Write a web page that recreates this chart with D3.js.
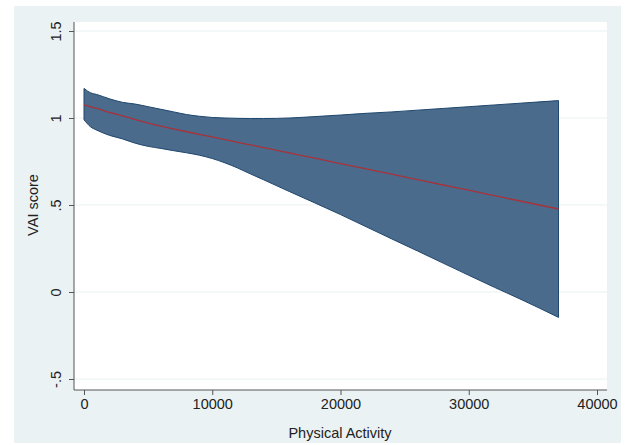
<!DOCTYPE html>
<html>
<head>
<meta charset="utf-8">
<script src="https://cdn.jsdelivr.net/npm/d3@7"></script>
<style>
  body { margin: 0; background: #fff; }
  text { font-family: "Liberation Sans", Arial, sans-serif; }
</style>
</head>
<body>
<div id="container"></div>
<script>
// physical activity values where the fit was read
const activity = [0, 500, 1000, 2000, 3000, 4000, 5000, 6000, 7000, 8000, 9000, 10000, 11000, 12000, 13000, 14000,
  16000, 18000, 20000, 22000, 24000, 26000, 28000, 30000, 32000, 34000, 37000]
// fitted VAI score and the confidence band
const fitted = [1.075, 1.065, 1.055, 1.032, 1.012, 0.991, 0.971, 0.953, 0.937, 0.921, 0.906, 0.891, 0.876, 0.86, 0.845, 0.83,
  0.799, 0.769, 0.738, 0.707, 0.677, 0.646, 0.615, 0.585, 0.554, 0.523, 0.477]
const upper = [1.17, 1.145, 1.135, 1.11, 1.09, 1.08, 1.065, 1.05, 1.035, 1.02, 1.01, 1.003, 1.0, 0.998, 0.997, 0.997,
  1.0, 1.008, 1.017, 1.027, 1.035, 1.045, 1.055, 1.065, 1.075, 1.085, 1.10]
const lower = [0.99, 0.95, 0.93, 0.90, 0.88, 0.855, 0.837, 0.825, 0.812, 0.80, 0.786, 0.767, 0.742, 0.712, 0.678, 0.645,
  0.578, 0.512, 0.445, 0.375, 0.305, 0.236, 0.166, 0.096, 0.027, -0.04, -0.146]

const xTicks = [0, 10000, 20000, 30000, 40000]
const yTicks = [-0.5, 0, 0.5, 1, 1.5]
const yTickLabels = ["-.5", "0", ".5", "1", "1.5"]

const width = 629, height = 445
const plot = { left: 74, right: 607, top: 22, bottom: 390 }

const svg = d3.select("#container").append("svg")
  .attr("width", width)
  .attr("height", height)

// outer graph region
svg.append("rect")
  .attr("x", 14).attr("y", 6)
  .attr("width", 607).attr("height", 437)
  .attr("fill", "#eaf2f3")

// inner plot region
svg.append("rect")
  .attr("x", plot.left).attr("y", plot.top)
  .attr("width", plot.right - plot.left).attr("height", plot.bottom - plot.top)
  .attr("fill", "#ffffff")

const x = d3.scaleLinear().domain([0, 40000]).range([84, 597])
const y = d3.scaleLinear().domain([-0.5, 1.5]).range([379, 31])

// grid lines
svg.append("g")
  .selectAll("line")
  .data(yTicks)
  .enter()
  .append("line")
    .attr("x1", plot.left).attr("x2", plot.right)
    .attr("y1", d => y(d)).attr("y2", d => y(d))
    .style("stroke", "#eaf2f3")
    .style("stroke-width", 1.2)

const rows = activity.map((a, i) => ({ a: a, fit: fitted[i], lo: lower[i], hi: upper[i] }))

// confidence band
svg.append("path")
  .datum(rows)
  .attr("d", d3.area()
    .x(d => x(d.a))
    .y0(d => y(d.lo))
    .y1(d => y(d.hi))
    .curve(d3.curveMonotoneX))
  .style("fill", "#4a6b8b")
  .style("stroke", "#1f476e")
  .style("stroke-width", 1)

// fitted line
svg.append("path")
  .datum(rows)
  .attr("d", d3.line()
    .x(d => x(d.a))
    .y(d => y(d.fit))
    .curve(d3.curveMonotoneX))
  .style("fill", "none")
  .style("stroke", "#a8323a")
  .style("stroke-width", 1.3)

// y axis
const yAxis = svg.append("g")
  .attr("transform", "translate(" + plot.left + ",0)")
  .call(d3.axisLeft(y).tickValues(yTicks).tickSize(5).tickSizeOuter(0)
    .tickFormat((d, i) => yTickLabels[i]))
yAxis.select(".domain").attr("d", "M0," + plot.top + "V" + plot.bottom)
  .style("stroke", "#555")
yAxis.selectAll(".tick line").style("stroke", "#555")
yAxis.selectAll(".tick text")
  .attr("x", 0).attr("dy", 0)
  .attr("transform", "translate(-13,0) rotate(-90)")
  .attr("text-anchor", "middle")
  .style("font-size", "14.5px")
  .style("fill", "#222")

// x axis
const xAxis = svg.append("g")
  .attr("transform", "translate(0," + plot.bottom + ")")
  .call(d3.axisBottom(x).tickValues(xTicks).tickSize(5).tickSizeOuter(0).tickFormat(d3.format("d")))
xAxis.select(".domain").attr("d", "M" + plot.left + ",0H" + plot.right)
  .style("stroke", "#555")
xAxis.selectAll(".tick line").style("stroke", "#555")
xAxis.selectAll(".tick text")
  .attr("y", 9)
  .style("font-size", "14.5px")
  .style("fill", "#222")

// axis titles
svg.append("text")
  .attr("x", 340).attr("y", 438)
  .attr("text-anchor", "middle")
  .style("font-size", "14.5px")
  .style("fill", "#222")
  .text("Physical Activity")

svg.append("text")
  .attr("transform", "translate(38,205) rotate(-90)")
  .attr("text-anchor", "middle")
  .style("font-size", "14.5px")
  .style("fill", "#222")
  .text("VAI score")
</script>
</body>
</html>
